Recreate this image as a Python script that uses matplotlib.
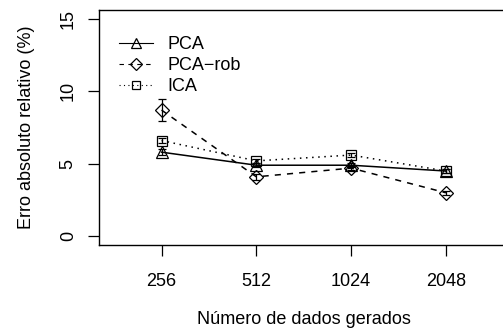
import matplotlib.pyplot as plt
from matplotlib.lines import Line2D

plt.rcParams['font.family'] = ['Liberation Sans', 'DejaVu Sans']

n_dados = ['256', '512', '1024', '2048']
pca = [5.8, 4.9, 4.9, 4.5]
pca_rob = [8.7, 4.1, 4.7, 3.0]
ica = [6.6, 5.2, 5.6, 4.5]
pca_err = [0.2, 0.12, 0.12, 0.12]
pca_rob_err = [0.75, 0.2, 0.15, 0.12]
ica_err = [0.2, 0.15, 0.15, 0.12]

x = list(range(1, len(n_dados) + 1))
fs = 13

fig = plt.figure(figsize=(5.03, 3.33), dpi=100)
ax = fig.add_axes([99 / 503, 1 - 245 / 333, (508.5 - 99) / 503, 235 / 333])

estilos = [
    ('PCA', pca, pca_err, '-', '^', 9),
    ('PCA\u2212rob', pca_rob, pca_rob_err, (0, (4, 4)), 'D', 7),
    ('ICA', ica, ica_err, (0, (1, 3)), 's', 7.5),
]
handles = []
for nome, vals, err, ls, mk, ms in estilos:
    ax.errorbar(x, vals, yerr=err, color='black', linestyle=ls, linewidth=1.1,
                marker=mk, markersize=ms, markerfacecolor='none',
                markeredgewidth=0.9, capsize=3.2, elinewidth=0.9,
                clip_on=False)
    handles.append(Line2D([], [], color='black', linestyle=ls, linewidth=0.8,
                          marker=mk, markersize=ms * 0.85,
                          markerfacecolor='none', markeredgewidth=0.9))

ax.set_xlim(0.34, 4.66)
ax.set_ylim(-0.6, 15.6)
ax.set_xticks(x)
ax.set_xticklabels(n_dados)
ax.set_yticks([0, 5, 10, 15])
ax.set_yticklabels(['0', '5', '10', '15'], rotation=90, va='center')
ax.tick_params(axis='both', length=8, width=0.9, labelsize=fs)
ax.tick_params(axis='x', pad=12)
ax.tick_params(axis='y', pad=8)
for sp in ax.spines.values():
    sp.set_linewidth(1.0)

ax.set_xlabel('Número de dados gerados', fontsize=fs, va='center')
ax.set_ylabel('Erro absoluto relativo (%)', fontsize=fs, va='center')
ax.xaxis.set_label_coords(0.5, -74 / 235)
ax.yaxis.set_label_coords(-72 / 409.5, 0.5)

ax.legend(handles, ['PCA', 'PCA\u2212rob', 'ICA'], loc='upper left',
          bbox_to_anchor=(20 / 409.5, 209 / 235), borderaxespad=0,
          borderpad=0, frameon=False, fontsize=fs, handlelength=1.9,
          handletextpad=0.8, labelspacing=0.22)

fig.savefig('out.png', dpi=100)
